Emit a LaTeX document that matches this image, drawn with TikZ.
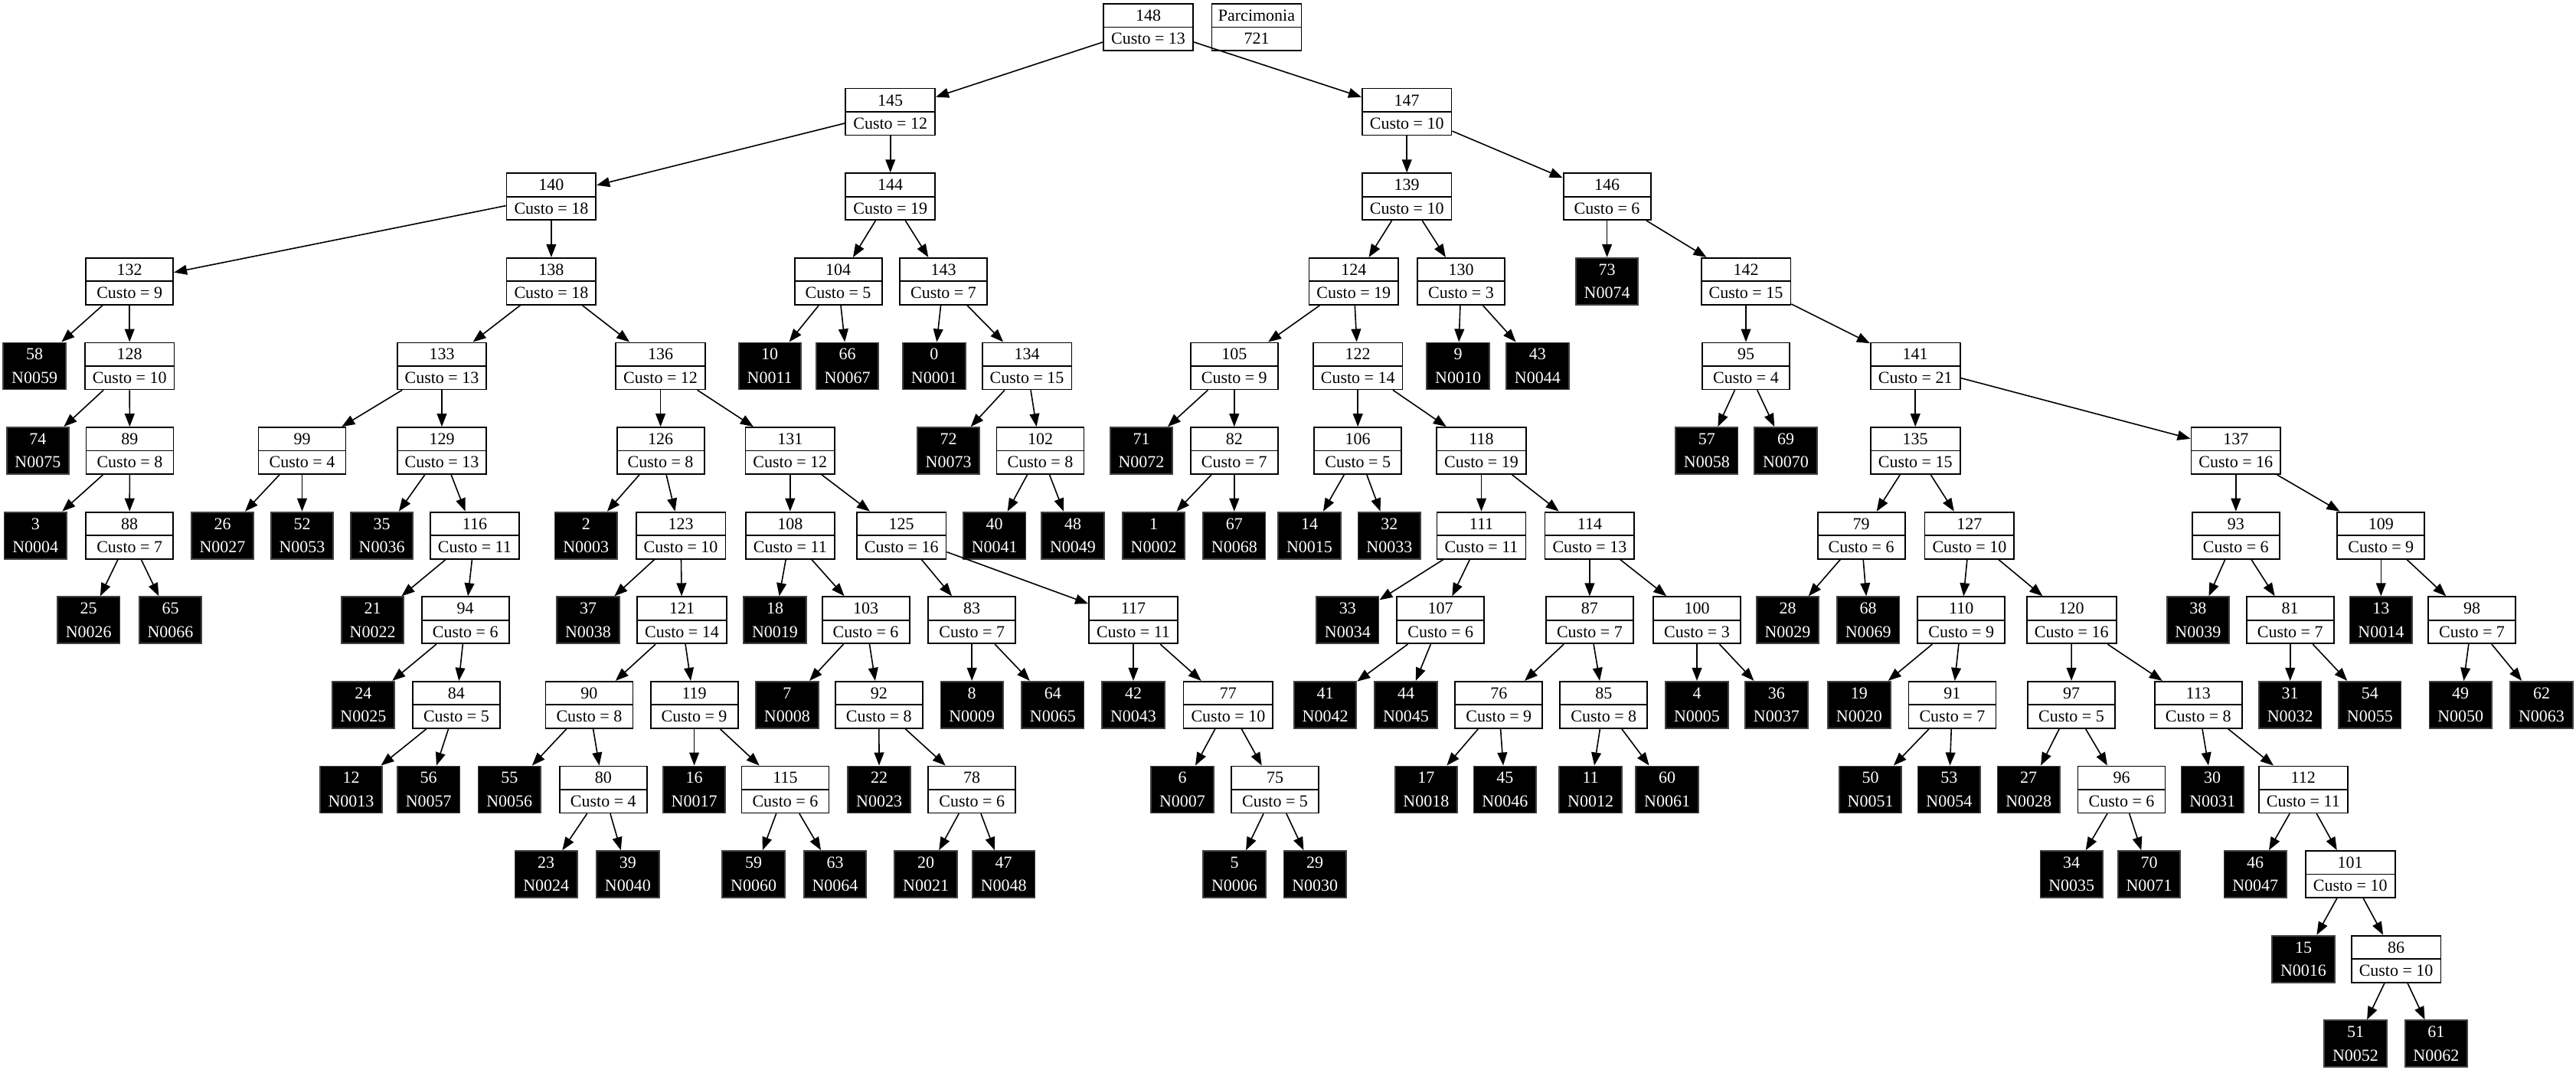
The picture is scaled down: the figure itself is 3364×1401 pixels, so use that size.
\documentclass[tikz,border=0pt]{standalone}
\usepackage{fontspec}
\setmainfont{Liberation Serif}
\usetikzlibrary{arrows.meta}
\tikzset{
  boxfont/.style={font=\fontsize{5.5}{7.6}\selectfont},
  inode/.style={draw, line width=0.45pt, fill=white, boxfont, minimum width=28.5pt, minimum height=15.25pt,
    inner xsep=2.5pt, inner ysep=0pt, align=center,
    path picture={\draw[line width=0.45pt] (path picture bounding box.west) -- (path picture bounding box.east);}},
  leaf/.style={draw=black!75, line width=0.45pt, fill=black, text=white, boxfont, minimum width=20.25pt,
    minimum height=15.25pt, inner xsep=2.7pt, inner ysep=0pt, align=center},
  edge/.style={-{Triangle[length=4.25pt,width=3.2pt]}, line width=0.4pt}
}
\newcommand{\mkin}[4]{\node[inode] (n#1) at (#2,#3) {#1\\Custo = #4};}
\newcommand{\mklf}[4]{\node[leaf] (n#1) at (#2,#3) {#1\\N#4};}
\begin{document}
\begin{tikzpicture}[x=0.25pt,y=-0.25pt]
\useasboundingbox (0,0) rectangle (3364,1401);
% row 0
\mkin{148}{1499.6}{35.5}{13}
\node[inode, minimum width=29.25pt, inner xsep=2pt] (parc) at (1641,35.5) {Parcimonia\\721};
% row 1
\mkin{145}{1162.7}{146.1}{12}
\mkin{147}{1837.2}{146.1}{10}
% row 2
\mkin{140}{719.9}{256.7}{18}
\mkin{144}{1162.7}{256.7}{19}
\mkin{139}{1837.2}{256.7}{10}
\mkin{146}{2098.6}{256.7}{6}
% row 3
\mkin{132}{169.2}{367.3}{9}
\mkin{138}{719.9}{367.3}{18}
\mkin{104}{1094.6}{367.3}{5}
\mkin{143}{1232}{367.3}{7}
\mkin{124}{1767.8}{367.3}{19}
\mkin{130}{1908}{367.3}{3}
\mklf{73}{2098.6}{367.3}{0074}
\mkin{142}{2280}{367.3}{15}
% row 4
\mklf{58}{45.1}{477.9}{0059}
\mkin{128}{169.2}{477.9}{10}
\mkin{133}{577}{477.9}{13}
\mkin{136}{862.6}{477.9}{12}
\mklf{10}{1005.2}{477.9}{0011}
\mklf{66}{1106.6}{477.9}{0067}
\mklf{0}{1219.9}{477.9}{0001}
\mkin{134}{1341.1}{477.9}{15}
\mkin{105}{1611.8}{477.9}{9}
\mkin{122}{1773.2}{477.9}{14}
\mklf{9}{1904.1}{477.9}{0010}
\mklf{43}{2007.9}{477.9}{0044}
\mkin{95}{2280}{477.9}{4}
\mkin{141}{2501.2}{477.9}{21}
% row 5
\mklf{74}{49.4}{588.5}{0075}
\mkin{89}{169.4}{588.5}{8}
\mkin{99}{394.5}{588.5}{4}
\mkin{129}{577}{588.5}{13}
\mkin{126}{862.6}{588.5}{8}
\mkin{131}{1031.8}{588.5}{12}
\mklf{72}{1238.6}{588.5}{0073}
\mkin{102}{1358.5}{588.5}{8}
\mklf{71}{1490.5}{588.5}{0072}
\mkin{82}{1611.8}{588.5}{7}
\mkin{106}{1773.2}{588.5}{5}
\mkin{118}{1934.5}{588.5}{19}
\mklf{57}{2228.8}{588.5}{0058}
\mklf{69}{2332}{588.5}{0070}
\mkin{135}{2501.2}{588.5}{15}
\mkin{137}{2919.8}{588.5}{16}
% row 6
\mklf{3}{46.3}{699.1}{0004}
\mkin{88}{169.2}{699.1}{7}
\mklf{26}{290.5}{699.1}{0027}
\mklf{52}{394.5}{699.1}{0053}
\mklf{35}{498.6}{699.1}{0036}
\mkin{116}{619.9}{699.1}{11}
\mklf{2}{765.3}{699.1}{0003}
\mkin{123}{889.1}{699.1}{10}
\mkin{108}{1031.8}{699.1}{11}
\mkin{125}{1177.2}{699.1}{16}
\mklf{40}{1298.7}{699.1}{0041}
\mklf{48}{1401}{699.1}{0049}
\mklf{1}{1506.6}{699.1}{0002}
\mklf{67}{1611.8}{699.1}{0068}
\mklf{14}{1710}{699.1}{0015}
\mklf{32}{1814.3}{699.1}{0033}
\mkin{111}{1934.5}{699.1}{11}
\mkin{114}{2075.9}{699.1}{13}
\mkin{79}{2430.6}{699.1}{6}
\mkin{127}{2571.9}{699.1}{10}
\mkin{93}{2919.8}{699.1}{6}
\mkin{109}{3109.3}{699.1}{9}
% row 7
\mklf{25}{115.7}{809.7}{0026}
\mklf{65}{222.5}{809.7}{0066}
\mklf{21}{486.6}{809.7}{0022}
\mkin{94}{607.7}{809.7}{6}
\mklf{37}{768}{809.7}{0038}
\mkin{121}{890.5}{809.7}{14}
\mklf{18}{1012}{809.7}{0019}
\mkin{103}{1130.6}{809.7}{6}
\mkin{83}{1269.2}{809.7}{7}
\mkin{117}{1480}{809.7}{11}
\mklf{33}{1759.8}{809.7}{0034}
\mkin{107}{1881.2}{809.7}{6}
\mkin{87}{2075.9}{809.7}{7}
\mkin{100}{2216}{809.7}{3}
\mklf{28}{2334.5}{809.7}{0029}
\mklf{68}{2439.7}{809.7}{0069}
\mkin{110}{2561.2}{809.7}{9}
\mkin{120}{2705.2}{809.7}{16}
\mklf{38}{2870.4}{809.7}{0039}
\mkin{81}{2990.7}{809.7}{7}
\mklf{13}{3109.3}{809.7}{0014}
\mkin{98}{3228}{809.7}{7}
% row 8
\mklf{24}{474.4}{920.3}{0025}
\mkin{84}{595.9}{920.3}{5}
\mkin{90}{769.4}{920.3}{8}
\mkin{119}{906.6}{920.3}{9}
\mklf{7}{1027.9}{920.3}{0008}
\mkin{92}{1147.8}{920.3}{8}
\mklf{8}{1269.2}{920.3}{0009}
\mklf{64}{1374.8}{920.3}{0065}
\mklf{42}{1480}{920.3}{0043}
\mkin{77}{1603.9}{920.3}{10}
\mklf{41}{1730.6}{920.3}{0042}
\mklf{44}{1836}{920.3}{0045}
\mkin{76}{1957.3}{920.3}{9}
\mkin{85}{2094.3}{920.3}{8}
\mklf{4}{2216}{920.3}{0005}
\mklf{36}{2319.9}{920.3}{0037}
\mklf{19}{2427.9}{920.3}{0020}
\mkin{91}{2549.4}{920.3}{7}
\mkin{97}{2705}{920.3}{5}
\mkin{113}{2870.8}{920.3}{8}
\mklf{31}{2990.7}{920.3}{0032}
\mklf{54}{3094.8}{920.3}{0055}
\mklf{49}{3213.2}{920.3}{0050}
\mklf{62}{3319}{920.3}{0063}
% row 9
\mklf{12}{458.5}{1030.9}{0013}
\mklf{56}{559.7}{1030.9}{0057}
\mklf{55}{665.3}{1030.9}{0056}
\mkin{80}{787.8}{1030.9}{4}
\mklf{16}{906.6}{1030.9}{0017}
\mkin{115}{1025.4}{1030.9}{6}
\mklf{22}{1148.1}{1030.9}{0023}
\mkin{78}{1269.2}{1030.9}{6}
\mklf{6}{1544}{1030.9}{0007}
\mkin{75}{1665.1}{1030.9}{5}
\mklf{17}{1862.4}{1030.9}{0018}
\mklf{45}{1965.3}{1030.9}{0046}
\mklf{11}{2077.1}{1030.9}{0012}
\mklf{60}{2177.1}{1030.9}{0061}
\mklf{50}{2442.6}{1030.9}{0051}
\mklf{53}{2545.3}{1030.9}{0054}
\mklf{27}{2649.2}{1030.9}{0028}
\mkin{96}{2770.5}{1030.9}{6}
\mklf{30}{2889.2}{1030.9}{0031}
\mkin{112}{3007.8}{1030.9}{11}
% row 10
\mklf{23}{713.2}{1141.5}{0024}
\mklf{39}{819.9}{1141.5}{0040}
\mklf{59}{984.1}{1141.5}{0060}
\mklf{63}{1090.5}{1141.5}{0064}
\mklf{20}{1209.1}{1141.5}{0021}
\mklf{47}{1310.7}{1141.5}{0048}
\mklf{5}{1612}{1141.5}{0006}
\mklf{29}{1717.2}{1141.5}{0030}
\mklf{34}{2705.2}{1141.5}{0035}
\mklf{70}{2806.5}{1141.5}{0071}
\mklf{46}{2945.2}{1141.5}{0047}
\mkin{101}{3069.2}{1141.5}{10}
% row 11
\mklf{15}{3008}{1252.1}{0016}
\mkin{86}{3129.1}{1252.1}{10}
% row 12
\mklf{51}{3076}{1362.7}{0052}
\mklf{61}{3181.4}{1362.7}{0062}
% edges
\foreach \p/\c in {148/145,148/147,145/140,145/144,140/132,140/138,132/58,132/128,128/74,128/89,
  89/3,89/88,88/25,88/65,138/133,138/136,133/99,133/129,99/26,99/52,129/35,129/116,116/21,116/94,
  94/24,94/84,84/12,84/56,136/126,136/131,126/2,126/123,123/37,123/121,121/90,121/119,90/55,90/80,
  80/23,80/39,119/16,119/115,115/59,115/63,131/108,131/125,108/18,108/103,103/7,103/92,92/22,92/78,
  78/20,78/47,125/83,125/117,83/8,83/64,117/42,117/77,77/6,77/75,75/5,75/29,144/104,144/143,
  104/10,104/66,143/0,143/134,134/72,134/102,102/40,102/48,147/139,147/146,139/124,139/130,
  124/105,124/122,105/71,105/82,82/1,82/67,122/106,122/118,106/14,106/32,118/111,118/114,
  111/33,111/107,107/41,107/44,114/87,114/100,87/76,87/85,76/17,76/45,85/11,85/60,100/4,100/36,
  130/9,130/43,146/73,146/142,142/95,142/141,95/57,95/69,141/135,141/137,135/79,135/127,
  79/28,79/68,127/110,127/120,110/19,110/91,91/50,91/53,120/97,120/113,97/27,97/96,96/34,96/70,
  113/30,113/112,112/46,112/101,101/15,101/86,86/51,86/61,137/93,137/109,93/38,93/81,81/31,81/54,
  109/13,109/98,98/49,98/62}
  \draw[edge] (n\p) -- (n\c);
\end{tikzpicture}
\end{document}
